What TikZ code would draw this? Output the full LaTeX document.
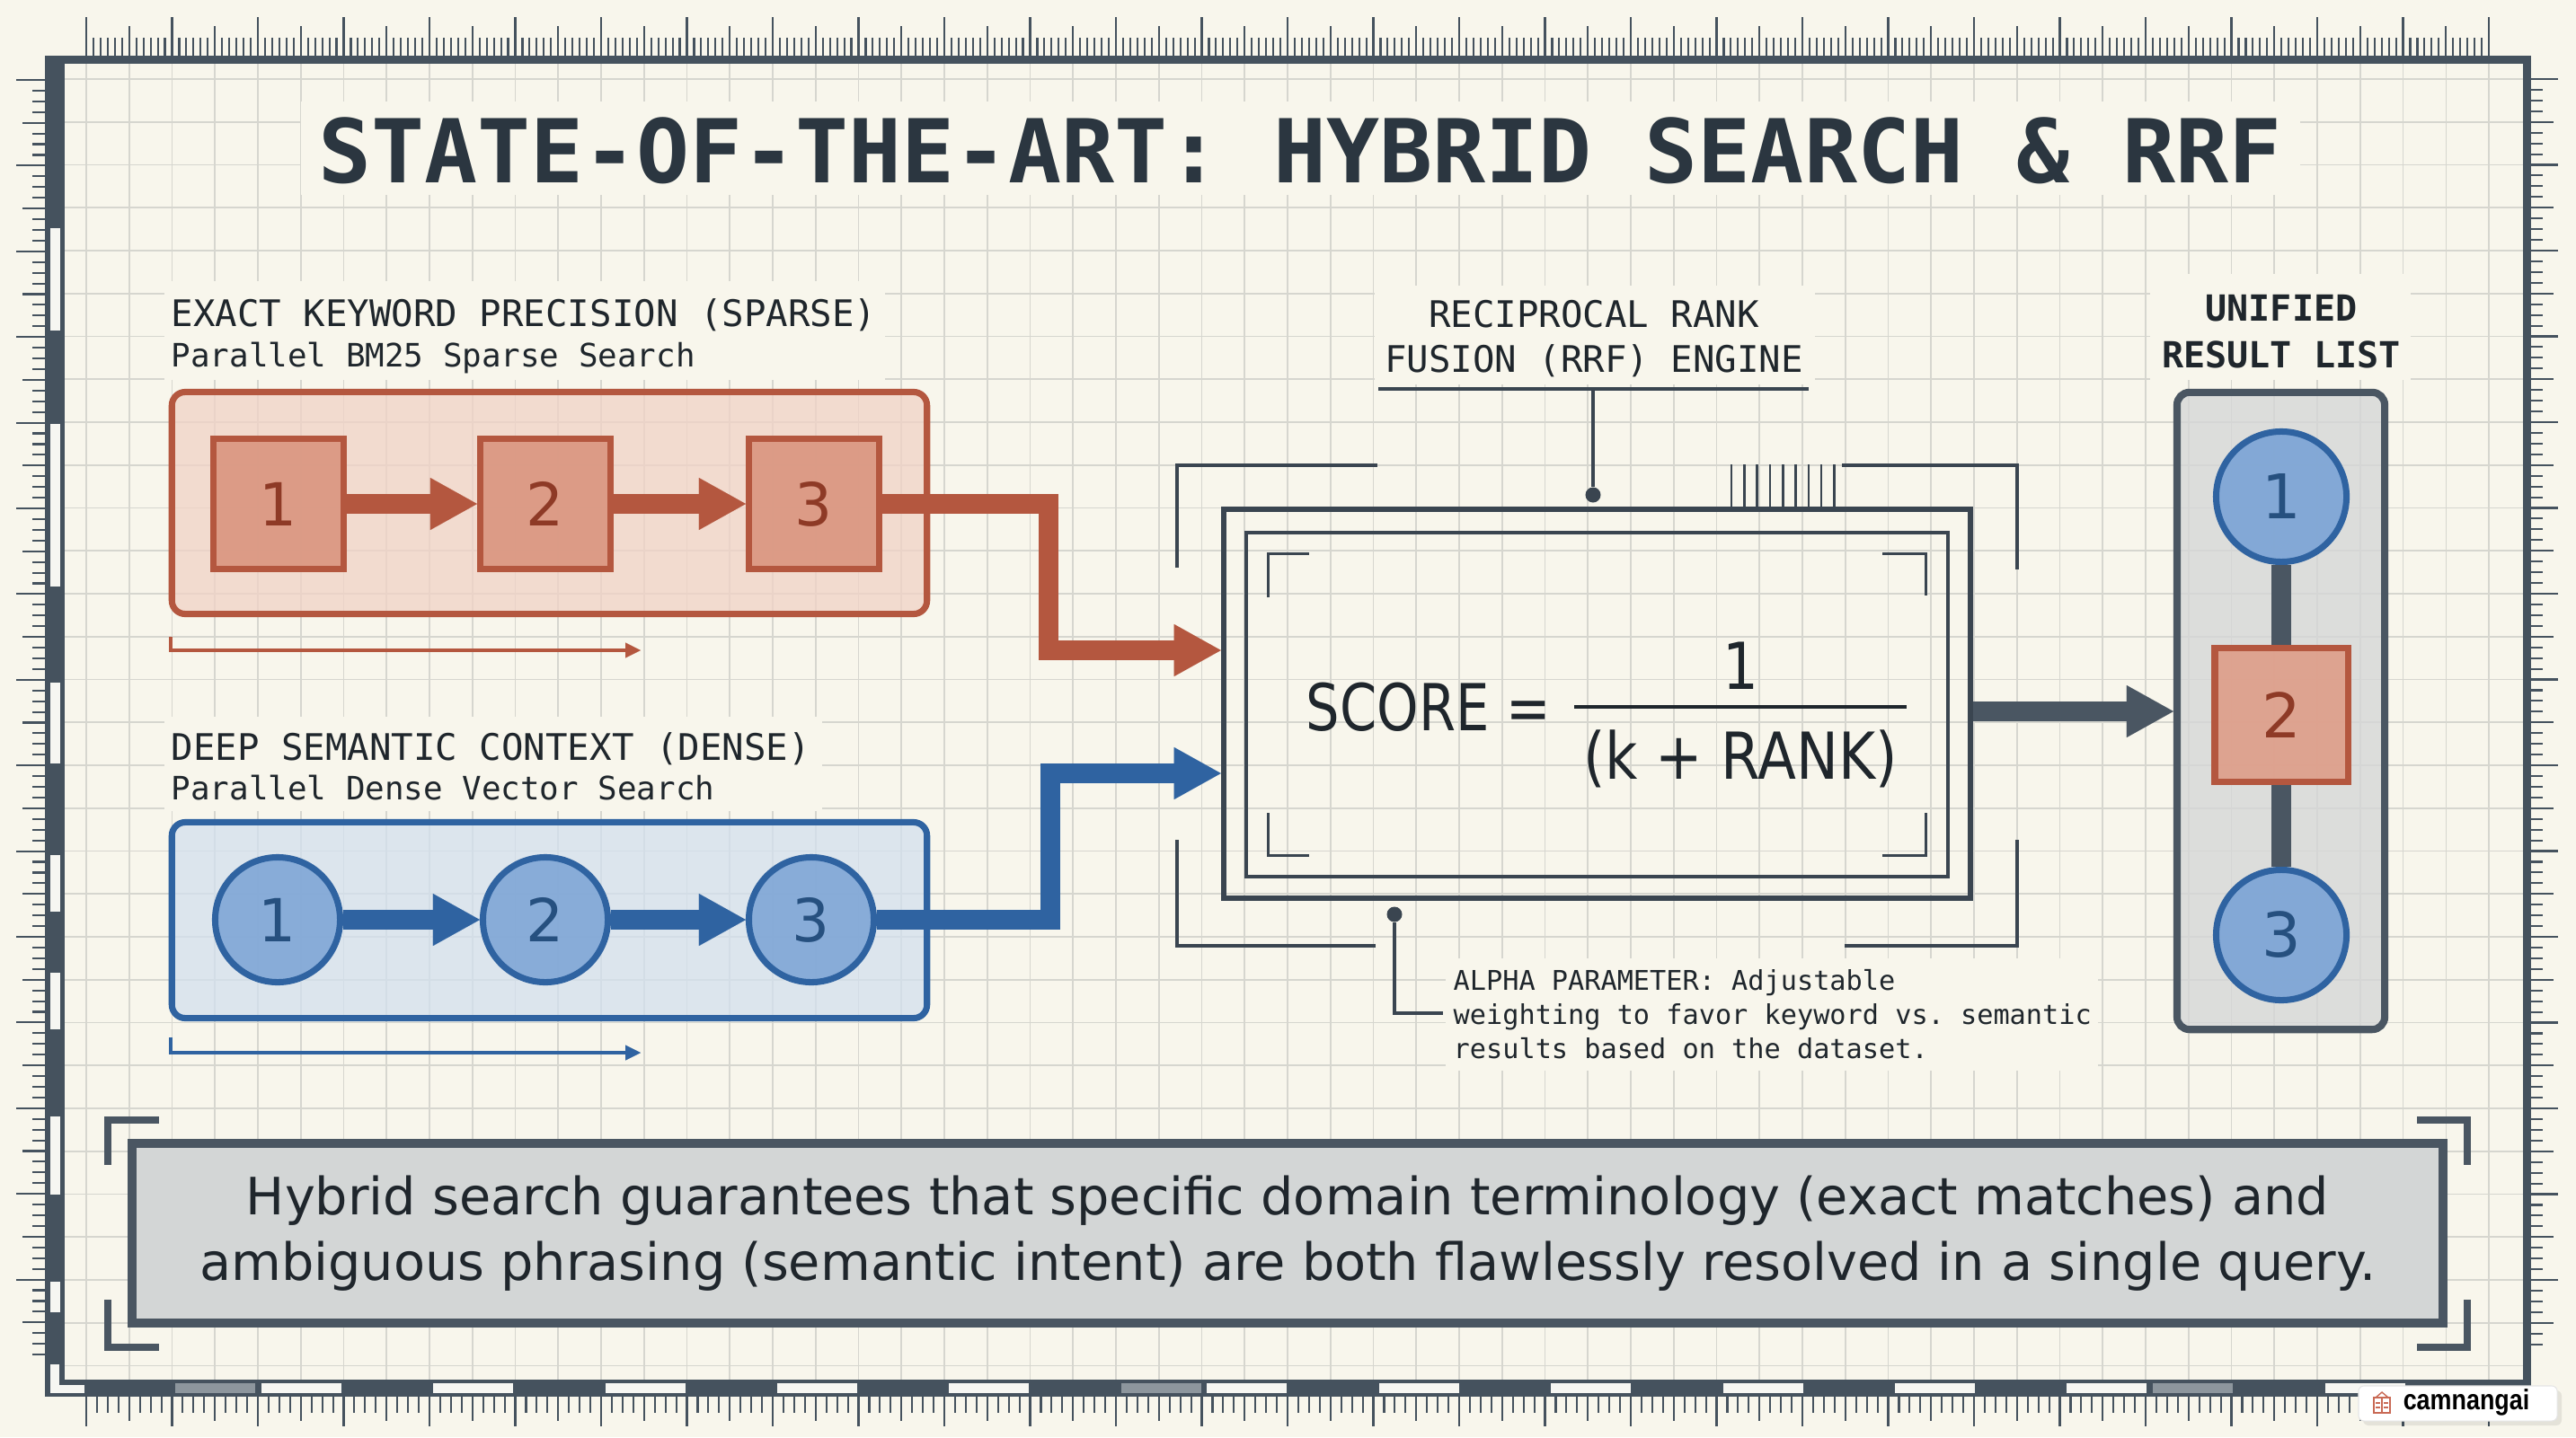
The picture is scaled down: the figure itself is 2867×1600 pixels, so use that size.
\documentclass[tikz,border=0pt]{standalone}
\usepackage{fontspec}
\setmainfont{DejaVu Sans}
\newfontfamily\monof{DejaVu Sans Mono}
\newfontfamily\numf{DejaVu Sans}
\newfontfamily\formf[FakeStretch=0.87]{DejaVu Sans}
\newfontfamily\formg[FakeStretch=0.82]{DejaVu Sans}
\newfontfamily\wmf[FakeStretch=0.85]{Liberation Sans}
\usetikzlibrary{arrows.meta}
\definecolor{bg}{HTML}{F8F6EC}
\definecolor{gridc}{HTML}{D6D6CF}
\definecolor{frame}{HTML}{45525E}
\definecolor{ink}{HTML}{1F262C}
\definecolor{titlec}{HTML}{2B3640}
\definecolor{redS}{HTML}{B4573F}
\definecolor{redF}{HTML}{DA957F}
\definecolor{redL}{HTML}{F1D3C6}
\definecolor{redT}{HTML}{8E3A26}
\definecolor{blueS}{HTML}{2F63A1}
\definecolor{blueF}{HTML}{7FA6D6}
\definecolor{blueL}{HTML}{D3E0EE}
\definecolor{blueT}{HTML}{26507F}
\definecolor{slate}{HTML}{4A5662}
\definecolor{dslate}{HTML}{3A4550}
\definecolor{listF}{HTML}{D5D7D7}
\definecolor{capF}{HTML}{D3D6D6}
\definecolor{segG}{HTML}{8D969D}
\definecolor{segW}{HTML}{F6F6F2}
\definecolor{wmred}{HTML}{C96A55}
\begin{document}
\frenchspacing
\begin{tikzpicture}[x=0.01cm,y=-0.01cm,
  gridl/.style={draw=gridc, line width=0.45pt},
  tick/.style={draw=frame, line width=0.6pt},
  hdr/.style={font=\monof\fontsize{11.58}{14}\selectfont, text=ink, inner sep=0pt, anchor=base west},
  subhdr/.style={font=\monof\fontsize{10.2}{12}\selectfont, text=ink, inner sep=0pt, anchor=base west},
  lbl/.style={font=\monof\fontsize{11.58}{14}\selectfont, text=ink, inner sep=0pt, anchor=base},
  ulbl/.style={font=\monof\bfseries\fontsize{11.4}{14}\selectfont, text=ink, inner sep=0pt, anchor=base},
  sparsebox/.style={rectangle, draw=redS, line width=2pt, fill=redL, fill opacity=0.75, rounded corners=0.15cm, minimum width=8.40cm, minimum height=2.47cm, inner sep=0pt},
  densebox/.style={rectangle, draw=blueS, line width=2pt, fill=blueL, fill opacity=0.75, rounded corners=0.15cm, minimum width=8.40cm, minimum height=2.18cm, inner sep=0pt},
  redsq/.style={rectangle, draw=redS, line width=2pt, fill=redF, fill opacity=0.9, text opacity=1, minimum size=1.45cm, inner sep=0pt, text=redT, font=\numf\fontsize{18.8}{20}\selectfont},
  bluec/.style={circle, draw=blueS, line width=2pt, fill=blueF, fill opacity=0.9, text opacity=1, minimum size=1.39cm, inner sep=0pt, text=blueT, font=\numf\fontsize{18.8}{20}\selectfont},
  redflow/.style={draw=redS, line width=6.3pt, line join=miter, -{Triangle[length=14.8pt,width=16.5pt,line width=0.01pt]}},
  blueflow/.style={draw=blueS, line width=6.3pt, line join=miter, -{Triangle[length=14.8pt,width=16.5pt,line width=0.01pt]}},
  grayflow/.style={draw=slate, line width=6.3pt, line join=miter, -{Triangle[length=14.8pt,width=16.5pt,line width=0.01pt]}},
  redthin/.style={draw=redS, line width=1pt, -{Triangle[length=4.8pt,width=4.8pt,line width=0.01pt]}},
  bluethin/.style={draw=blueS, line width=1pt, -{Triangle[length=4.8pt,width=4.8pt,line width=0.01pt]}},
  rrfout/.style={rectangle, draw=dslate, line width=1.7pt, minimum width=8.31cm, minimum height=4.33cm, inner sep=0pt},
  rrfin/.style={rectangle, draw=dslate, line width=1.15pt, minimum width=7.81cm, minimum height=3.83cm, inner sep=0pt},
  obr/.style={draw=dslate, line width=1pt},
  ibr/.style={draw=dslate, line width=0.85pt},
  formula/.style={font=\formf\fontsize{20.5}{24}\selectfont, text=ink, inner sep=0pt},
  dotn/.style={circle, fill=dslate, inner sep=0pt, minimum size=0.17cm},
  thinline/.style={draw=dslate, line width=0.9pt},
  listbox/.style={rectangle, draw=slate, line width=2.3pt, fill=listF, fill opacity=0.8, rounded corners=0.14cm, minimum width=2.31cm, minimum height=7.09cm, inner sep=0pt},
  listlink/.style={draw=slate, line width=6.3pt},
  ucirc/.style={circle, draw=blueS, line width=2pt, fill=blueF, fill opacity=0.95, text opacity=1, minimum size=1.45cm, inner sep=0pt, text=blueT, font=\numf\fontsize{19.5}{21}\selectfont},
  usq/.style={rectangle, draw=redS, line width=2pt, fill=redF!90!white, fill opacity=0.95, text opacity=1, minimum size=1.48cm, inner sep=0pt, text=redT, font=\numf\fontsize{19.5}{21}\selectfont},
  capbox/.style={rectangle, draw=slate, line width=2.85pt, fill=capF, minimum width=25.70cm, minimum height=2.0cm, inner sep=0pt, align=center, font=\fontsize{16.3}{20.8}\selectfont, text=ink},
  capbr/.style={draw=slate, line width=2.3pt},
  alpha/.style={font=\monof\fontsize{8.6}{10.81}\selectfont, text=ink, inner sep=0pt, align=left, anchor=north west}
]
\useasboundingbox (0,0) rectangle (2867,1600);
\fill[bg] (0,0) rectangle (2867,1600);

% grid
\foreach \i in {0,...,56} \draw[gridl] ({96+\i*47.75},71) -- ({96+\i*47.75},1536);
\foreach \j in {0,...,30} \draw[gridl] (72,{88+\j*47.75}) -- (2808,{88+\j*47.75});

% masks behind labels
\fill[bg] (335,113) rectangle (2560,217);
\fill[bg] (183,313) rectangle (985,423);
\fill[bg] (183,798) rectangle (915,903);
\fill[bg] (1530,318) rectangle (2020,428);
\fill[bg] (2393,305) rectangle (2683,423);
\fill[bg] (1609,1067) rectangle (2335,1192);

% frame
\fill[frame] (50,62) rectangle (2817,71);
\fill[frame] (50,62) rectangle (72,1555);
\fill[frame] (2808,62) rectangle (2817,1555);
\fill[frame] (50,1536) rectangle (2817,1555);
\foreach \a/\b in {254/368,472/653,760/850,952/1015,1083/1146,1243/1330,1427/1461}
  \fill[segW] (56,\a) rectangle (67,\b);
\fill[segW] (56,1519) rectangle (66,1551);
\fill[segW] (56,1542) rectangle (94,1551);
\foreach \j in {1,3,5,7,9,12,14,16,18,20,22,25}
  \fill[segW] ({192+\j*95.7+3},1540) rectangle ({192+\j*95.7+92},1551);
\foreach \j in {0,11,23}
  \fill[segG] ({192+\j*95.7+3},1540) rectangle ({192+\j*95.7+92},1551);

% rulers
\foreach \n in {0,...,336}{
  \pgfmathsetmacro\len{ifthenelse(mod(\n,12)==0,43,ifthenelse(mod(\n,6)==0,33,20))}
  \draw[tick] ({96+\n*7.9583},62) -- ++(0,-\len);
}
\foreach \n in {0,...,119}{
  \pgfmathsetmacro\len{ifthenelse(mod(\n,8)==0,32,ifthenelse(mod(\n,4)==0,25,14))}
  \draw[tick] (50,{89+\n*11.925}) -- ++(-\len,0);
}
\foreach \n in {0,...,118}{
  \pgfmathsetmacro\len{ifthenelse(mod(\n,8)==0,30,ifthenelse(mod(\n,4)==0,25,13))}
  \draw[tick] (2817,{88+\n*11.9375}) -- ++(\len,0);
}
\foreach \n in {0,...,224}{
  \pgfmathsetmacro\len{ifthenelse(mod(\n,8)==0,33,ifthenelse(mod(\n,4)==0,27,18))}
  \draw[tick] ({96+\n*11.9375},1555) -- ++(0,\len);
}

% title
\node[font=\monof\bfseries\fontsize{27.9}{30}\selectfont, text=titlec, inner sep=0pt, anchor=base] (title) at (1447,204) {STATE-OF-THE-ART: HYBRID SEARCH \& RRF};

% sparse section
\node[hdr] (sh) at (190,363) {EXACT KEYWORD PRECISION (SPARSE)};
\node[subhdr] (ss) at (190,408) {Parallel BM25 Sparse Search};
\node[sparsebox] (sbox) at (611.5,560) {};
\node[redsq] (s1) at (310,561) {1};
\node[redsq] (s2) at (607,561) {2};
\node[redsq] (s3) at (906,561) {3};
\draw[redflow] (s1) -- (s2);
\draw[redflow] (s2) -- (s3);
\coordinate (rt0) at (190,709);
\coordinate (rt1) at (190,724);
\coordinate (rt2) at (713,724);
\draw[redthin] (rt0) -- (rt1) -- (rt2);

% dense section
\node[hdr] (dh) at (190,846) {DEEP SEMANTIC CONTEXT (DENSE)};
\node[subhdr] (ds) at (190,890) {Parallel Dense Vector Search};
\node[densebox] (dbox) at (611.5,1024.5) {};
\node[bluec] (c1) at (309,1024) {1};
\node[bluec] (c2) at (607,1024) {2};
\node[bluec] (c3) at (903,1024) {3};
\draw[blueflow] (c1) -- (c2);
\draw[blueflow] (c2) -- (c3);
\coordinate (bt0) at (190,1155);
\coordinate (bt1) at (190,1172);
\coordinate (bt2) at (713,1172);
\draw[bluethin] (bt0) -- (bt1) -- (bt2);

% RRF engine
\node[lbl] (rl1) at (1774,364) {RECIPROCAL RANK};
\node[lbl] (rl2) at (1774,414) {FUSION (RRF) ENGINE};
\draw[thinline] (1534,433) -- (2013,433);
\node[rrfout] (rrf) at (1777.5,783.5) {};
\node[rrfin] (rrfi) at (1777.5,784.5) {};
\coordinate (ulmid) at (1773,433);
\node[dotn] (rdot) at (1773,551) {};
\draw[thinline] (ulmid) -- (rdot);
\foreach \i in {0,...,8} \draw[dslate, line width=0.75pt] ({1927+\i*14.3},517) -- ++(0,47);
% outer brackets
\draw[obr] (1310,632) -- (1310,518) -- (1533,518);
\draw[obr] (2050,518) -- (2245,518) -- (2245,634);
\draw[obr] (1310,935) -- (1310,1053) -- (1531,1053);
\draw[obr] (2053,1053) -- (2245,1053) -- (2245,935);
% inner brackets
\draw[ibr] (1411,665) -- (1411,616) -- (1457,616);
\draw[ibr] (2095,616) -- (2143,616) -- (2143,663);
\draw[ibr] (1411,905) -- (1411,952) -- (1457,952);
\draw[ibr] (2095,952) -- (2143,952) -- (2143,905);
% formula
\node[formula, font=\formg\fontsize{20.5}{24}\selectfont, anchor=west] (score) at (1453,787) {SCORE =};
\node[formula] (num) at (1937,741) {1};
\draw[draw=ink, line width=1pt] (1752,787) -- (2122,787);
\node[formula] (den) at (1937,845) {(k + RANK)};

% flows into engine
\coordinate (rb) at (1167,724);
\coordinate (bb) at (1169,861);
\draw[redflow] (s3.east) -| (rb) -- (rb -| rrf.west);
\draw[blueflow] (c3.east) -| (bb) -- (bb -| rrf.west);

% alpha callout
\node[dotn] (adot) at (1552,1018) {};
\coordinate (abend) at (1552,1128);
\coordinate (aend) at (1606,1128);
\draw[thinline] (adot) -- (abend) -- (aend);
\node[alpha] (atext) at (1617,1079) {ALPHA PARAMETER: Adjustable\\weighting to favor keyword vs. semantic\\results based on the dataset.};

% unified result list
\node[ulbl] (ul1) at (2539,357) {UNIFIED};
\node[ulbl] (ul2) at (2539,409) {RESULT LIST};
\node[listbox] (ulist) at (2538.5,791.5) {};
\node[ucirc] (u1) at (2539,553) {1};
\node[usq] (u2) at (2539,796) {2};
\node[ucirc] (u3) at (2539,1041) {3};
\draw[listlink] (u1) -- (u2);
\draw[listlink] (u2) -- (u3);
\coordinate (oa) at (2196,792);
\draw[grayflow] (oa) -- (oa -| ulist.west);

% caption
\node[capbox] (cap) at (1433,1373) {Hybrid search guarantees that specific domain terminology (exact matches) and\\ambiguous phrasing (semantic intent) are both flawlessly resolved in a single query.};
\draw[capbr] (120,1297) -- (120,1247) -- (177,1247);
\draw[capbr] (120,1447) -- (120,1500) -- (177,1500);
\draw[capbr] (2690,1247) -- (2746,1247) -- (2746,1297);
\draw[capbr] (2690,1500) -- (2746,1500) -- (2746,1447);

% watermark
\fill[black, opacity=0.08, rounded corners=0.06cm] (2630,1548) rectangle (2851,1587);
\node[rectangle, fill=white, draw=black!10, line width=0.3pt, rounded corners=0.06cm, minimum width=2.21cm, minimum height=0.39cm, inner sep=0pt] (wm) at (2735.5,1562.5) {};
\draw[wmred, line width=0.4pt] (2642,1556) rectangle (2660,1573);
\draw[wmred, line width=0.4pt] (2651,1556) -- (2651,1573);
\draw[wmred, line width=0.4pt] (2644,1556) -- (2651,1550) -- (2658,1556);
\draw[wmred, line width=0.3pt] (2644,1562) -- (2649,1562) (2653,1562) -- (2658,1562) (2644,1567) -- (2649,1567) (2653,1567) -- (2658,1567);
\node[font=\wmf\bfseries\fontsize{9}{10}\selectfont, text=black, inner sep=0pt, anchor=base] (wmt) at (2745,1569) {camnangai};
\end{tikzpicture}
\end{document}
